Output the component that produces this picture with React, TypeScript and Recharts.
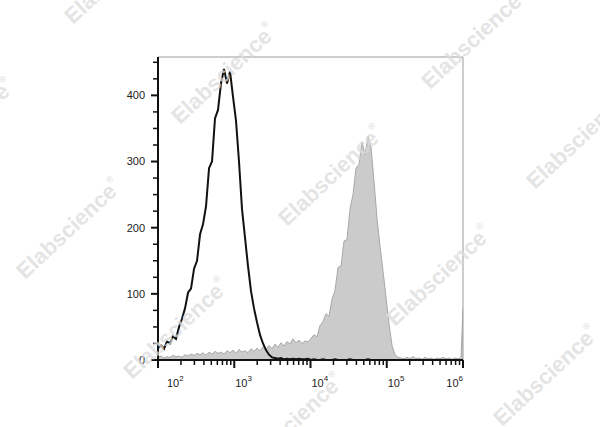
import React from 'react';
import { ComposedChart, Area, Line, XAxis, YAxis, ReferenceLine } from 'recharts';

// Histogram bin positions (fluorescence intensity, log-spaced channels)
const bins = [
  100, 110, 120, 131, 144, 157, 172, 189, 206, 226,
  248, 271, 297, 325, 356, 389, 426, 467, 511, 559,
  612, 670, 734, 804, 880, 963, 1054, 1154, 1264, 1384,
  1515, 1659, 1816, 1988, 2177, 2383, 2609, 2856, 3127, 3423,
  3748, 4103, 4493, 4918, 5385, 5895, 6454, 7066, 7736, 8469,
  9273, 10152, 11114, 12168, 13321, 14584, 15967, 17480, 19144, 20958,
  22947, 25119, 27500, 30110, 32961, 36090, 39510, 43262, 47358, 51852,
  56766, 62143, 68046, 74494, 81565, 89287, 97770, 107030, 117190, 128290,
  140440, 153780, 168340, 184320, 201780, 220930, 241850, 264850, 289950, 317380,
  347540, 380450, 416640, 456040, 499340, 546620, 598560, 655190, 717200, 785300,
  859800, 941400, 1000000,
];

// Control (black line) counts
const controlCounts = [
  18, 22, 17, 28, 25, 36, 32, 50, 62, 78,
  102, 108, 138, 150, 190, 205, 232, 290, 300, 365,
  378, 418, 440, 418, 436, 398, 362, 300, 228, 185,
  142, 104, 78, 57, 38, 25, 15, 8, 4, 3,
  2, 3, 1, 2, 1, 2, 1, 2, 1, 1,
  2, 0, 1, 0, 0, 1, 0, 0, 0, 1,
  0, 0, 0, 0, 1, 0, 0, 0, 0, 0,
  1, 0, 0, 0, 0, 0, 0, 0, 0, 0,
  0, 0, 0, 0, 0, 0, 0, 0, 0, 0,
  0, 0, 0, 0, 0, 0, 0, 0, 0, 0,
  0, 0, 0,
];

// Stained sample (grey filled) counts
const stainedCounts = [
  4, 6, 3, 5, 4, 7, 5, 6, 4, 8,
  6, 9, 7, 10, 8, 11, 7, 12, 9, 13,
  10, 12, 9, 14, 11, 15, 10, 16, 12, 14,
  11, 17, 13, 18, 14, 20, 16, 22, 17, 24,
  19, 26, 21, 28, 24, 32, 26, 30, 25, 29,
  27, 33, 38, 35, 52, 58, 70, 66, 92, 105,
  140, 142, 180, 182, 228, 250, 290, 296, 330, 310,
  338, 322, 270, 215, 172, 135, 95, 55, 22, 8,
  4, 3, 2, 4, 2, 5, 2, 3, 1, 4,
  2, 3, 1, 3, 2, 4, 2, 3, 1, 3,
  2, 3, 79,
];

const xTicks = [
  100, 200, 300, 400, 500, 600, 700, 800, 900,
  1000, 2000, 3000, 4000, 5000, 6000, 7000, 8000, 9000,
  10000, 20000, 30000, 40000, 50000, 60000, 70000, 80000, 90000,
  100000, 200000, 300000, 400000, 500000, 600000, 700000, 800000, 900000,
  1000000,
];
const xMajor = [100, 1000, 10000, 100000, 1000000];
const xMajorExp = ['2', '3', '4', '5', '6'];

const yTicks = [0, 25, 50, 75, 100, 125, 150, 175, 200, 225, 250, 275, 300, 325, 350, 375, 400, 425, 450];
const yMajor = [0, 100, 200, 300, 400];

const Y_MAX = 458;

const data = bins.map((x, i) => ({ x, control: controlCounts[i], stained: stainedCounts[i] }));

const FONT = '"Liberation Sans", Arial, Helvetica, sans-serif';

const XTick = (props: any) => {
  const { x, y, payload } = props;
  const v = payload.value;
  const mi = xMajor.indexOf(v);
  const major = mi >= 0;
  let dx = 1;
  let anchor: any = 'start';
  if (mi === 0) dx = 9;
  if (mi === xMajor.length - 1) {
    dx = 0;
    anchor = 'end';
  }
  return (
    <g>
      <line x1={x} x2={x} y1={y} y2={y + (major ? 8 : 5)} stroke="#111" strokeWidth={major ? 2 : 1.5} />
      {major && (
        <text x={x + dx} y={y + 27} textAnchor={anchor} fontSize={11} fill="#222" fontFamily={FONT}>
          10
          <tspan dy={-6} fontSize={8}>
            {xMajorExp[mi]}
          </tspan>
        </text>
      )}
    </g>
  );
};

const YTick = (props: any) => {
  const { x, y, payload } = props;
  const v = payload.value;
  const major = yMajor.indexOf(v) >= 0;
  return (
    <g>
      <line x1={x - (major ? 7 : 5)} x2={x} y1={y} y2={y} stroke="#111" strokeWidth={major ? 2 : 1.5} />
      {major && (
        <text x={x - 13} y={y} dy="0.35em" textAnchor="end" fontSize={11} fill="#222" fontFamily={FONT}>
          {v}
        </text>
      )}
    </g>
  );
};

const marks = [
  [118, -25], [225, 75], [332, 177], [440, 277], [547, 377],
  [-37, 130], [70, 230], [177, 330], [292, 425],
  [368, -60], [475, 40], [580, 140],
];

const Watermarks = () => (
  <svg
    width={600}
    height={427}
    style={{ position: 'absolute', left: 0, top: 0, pointerEvents: 'none' }}
  >
    {marks.map(([cx, cy], i) => (
      <text
        key={i}
        x={cx}
        y={cy}
        textAnchor="middle"
        dominantBaseline="middle"
        transform={`rotate(-43 ${cx} ${cy})`}
        fontSize={22}
        fontWeight="bold"
        fontFamily={FONT}
        fill="#dcdcdc"
        opacity={0.75}
      >
        Elabscience
        <tspan fontSize={9} dy={-9}>®</tspan>
      </text>
    ))}
  </svg>
);

export default function App() {
  return (
    <div style={{ position: 'absolute', left: 0, top: 0, width: 600, height: 427, background: '#fff' }}>
      <ComposedChart
        width={600}
        height={427}
        data={data}
        margin={{ top: 57, right: 137, bottom: 37, left: 118 }}
      >
        <XAxis
          dataKey="x"
          type="number"
          scale="log"
          domain={[100, 1000000]}
          ticks={xTicks}
          interval={0}
          tickSize={0}
          tickMargin={0}
          tickLine={false}
          tick={<XTick />}
          height={30}
          axisLine={{ stroke: '#111', strokeWidth: 2 }}
          allowDataOverflow
        />
        <YAxis
          type="number"
          domain={[0, Y_MAX]}
          ticks={yTicks}
          interval={0}
          tickSize={0}
          tickMargin={0}
          tickLine={false}
          tick={<YTick />}
          width={40}
          axisLine={{ stroke: '#111', strokeWidth: 2 }}
          allowDataOverflow
        />
        <Area
          type="linear"
          dataKey="stained"
          stroke="#a8a8a8"
          strokeWidth={1}
          fill="#cbcbcb"
          fillOpacity={1}
          isAnimationActive={false}
          dot={false}
          activeDot={false}
        />
        <ReferenceLine y={Y_MAX} stroke="#9a9a9a" strokeWidth={1} />
        <ReferenceLine x={1000000} stroke="#9a9a9a" strokeWidth={1} />
        <Line
          type="linear"
          dataKey="control"
          stroke="#111"
          strokeWidth={2}
          dot={false}
          activeDot={false}
          isAnimationActive={false}
        />
      </ComposedChart>
      <Watermarks />
    </div>
  );
}
